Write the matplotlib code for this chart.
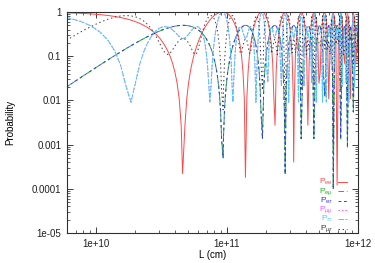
import numpy as np
import matplotlib
matplotlib.use('Agg')
import matplotlib.pyplot as plt
from matplotlib.ticker import LogLocator, NullFormatter

plt.rcParams['font.family'] = ['Liberation Sans', 'DejaVu Sans']
plt.rcParams['mathtext.fontset'] = 'custom'
plt.rcParams['mathtext.rm'] = 'Liberation Sans'
plt.rcParams['mathtext.it'] = 'Liberation Sans:italic'
plt.rcParams['lines.scale_dashes'] = False

# ---- data (baseline L in units of 1e10 cm, probabilities) ----
L_1e10cm = [
    0.462, 0.616, 0.770, 0.924, 1.078, 1.232, 1.386, 1.540, 1.694, 1.848, 2.002, 2.156, 2.310, 2.464,
    2.618, 2.772, 2.926, 3.080, 3.234, 3.388, 3.542, 3.696, 3.850, 4.004, 4.158, 4.312, 4.466, 4.5764,
    4.774, 4.928, 5.082, 5.236, 5.390, 5.544, 5.698, 5.852, 6.006, 6.160, 6.314, 6.468, 6.622, 6.776,
    6.930, 7.084, 7.238, 7.392, 7.546, 7.700, 7.854, 8.008, 8.162, 8.316, 8.470, 8.624, 8.778, 8.932,
    9.086, 9.3324,
    9.394, 9.548, 9.702, 9.856, 10.010, 10.164, 10.318, 10.472, 10.626, 10.780, 10.934, 11.088, 11.242,
    11.396, 11.550, 11.704, 11.858, 12.012, 12.166, 12.320, 12.628, 12.936, 13.244, 13.552, 13.8205,
    14.168, 14.476, 14.784, 15.092, 15.400, 15.708, 16.016, 16.324, 16.632, 16.940, 17.248, 17.556,
    17.864, 18.172,
    18.634, 19.096, 19.558, 20.020, 20.482, 20.944, 21.406, 21.868, 22.330, 22.792, 23.254, 23.716,
    24.178, 24.640, 25.102, 25.564, 26.026, 26.488, 26.950, 27.412, 27.782,
    28.336, 28.952, 29.568, 30.184, 30.800, 31.416, 32.032, 32.281, 32.648, 33.264, 33.880, 34.496,
    35.112, 35.728, 36.344, 36.806,
    37.730, 38.654, 39.578, 40.502, 41.426, 42.350, 43.274, 44.198, 45.122, 46.046,
    46.970, 48.048, 49.126, 50.358, 51.436, 52.514, 53.592, 54.670, 55.902,
    57.288, 58.674, 59.752, 61.138, 62.524, 63.910, 64.721,
    66.220, 67.760, 69.268, 70.840, 72.380, 73.766,
    75.614, 77.462, 79.310, 81.158, 83.037,
    85.008, 87.472, 89.628, 92.092,
    94.094, 96.250, 98.406, 100.562,
]

P_ee = [
    0.97553, 0.95677, 0.93301, 0.90451, 0.87157, 0.83457, 0.7939, 0.75, 0.70337, 0.65451, 0.60396,
    0.55226, 0.5, 0.44774, 0.39604, 0.34549, 0.29663, 0.25, 0.20611, 0.16543, 0.12843, 0.09549,
    0.06699, 0.04323, 0.02447, 0.01093, 0.00274, 2.2e-4,
    0.00274, 0.01093, 0.02447, 0.04323, 0.06699, 0.09549, 0.12843, 0.16543, 0.20611, 0.25, 0.29663,
    0.34549, 0.39604, 0.44774, 0.5, 0.55226, 0.60396, 0.65451, 0.70337, 0.75, 0.7939, 0.83457,
    0.87157, 0.90451, 0.93301, 0.95677, 0.97553, 0.98907, 0.99726, 0.99901,
    0.99726, 0.98907, 0.97553, 0.95677, 0.93301, 0.90451, 0.87157, 0.83457, 0.7939, 0.75, 0.70337,
    0.65451, 0.60396, 0.55226, 0.5, 0.44774, 0.39604, 0.34549, 0.29663, 0.25, 0.16543, 0.09549,
    0.04323, 0.01093, 1.81e-4,
    0.01093, 0.04323, 0.09549, 0.16543, 0.25, 0.34549, 0.44774, 0.55226, 0.65451, 0.75, 0.83457,
    0.90451, 0.95677, 0.98907,
    0.99726, 0.95677, 0.87157, 0.75, 0.60396, 0.44774, 0.29663, 0.16543, 0.06699, 0.01093, 0.00274,
    0.04323, 0.12843, 0.25, 0.39604, 0.55226, 0.70337, 0.83457, 0.93301, 0.98907, 0.99956,
    0.95677, 0.83457, 0.65451, 0.44774, 0.25, 0.09549, 0.01093, 4.03e-4, 0.01093, 0.09549, 0.25,
    0.44774, 0.65451, 0.83457, 0.95677, 0.99726,
    0.93301, 0.70337, 0.39604, 0.12843, 0.00274, 0.06699, 0.29663, 0.60396, 0.87157, 0.99726,
    0.93301, 0.65451, 0.29663, 0.02447, 0.04323, 0.29663, 0.65451, 0.93301, 0.97553,
    0.65451, 0.20611, 0.01093, 0.12843, 0.55226, 0.93301, 0.99981,
    0.75, 0.25, 1.21e-4, 0.25, 0.75, 0.99726,
    0.70337, 0.12843, 0.06699, 0.60396, 0.99825,
    0.65451, 0.01093, 0.34549, 0.98907,
    0.70337, 0.06699, 0.20611, 0.87157,
]

P_emu = [
    0.01224, 0.02162, 0.0335, 0.04775, 0.06422, 0.08272, 0.10305, 0.125, 0.14832, 0.17275, 0.19802,
    0.22387, 0.25, 0.27613, 0.30198, 0.32726, 0.35169, 0.375, 0.39695, 0.41729, 0.43579, 0.45226,
    0.46651, 0.47839, 0.48777, 0.49454, 0.49863, 0.4999,
    0.49863, 0.49454, 0.48777, 0.47839, 0.46651, 0.45226, 0.43579, 0.41729, 0.39695, 0.375, 0.35169,
    0.32726, 0.30198, 0.27613, 0.25, 0.22387, 0.19802, 0.17275, 0.14832, 0.125, 0.10305, 0.08272,
    0.06422, 0.04775, 0.0335, 0.02162, 0.01224, 0.005465, 0.00137, 4.93e-4,
    0.00137, 0.005465, 0.01224, 0.02162, 0.0335, 0.04775, 0.06422, 0.08272, 0.10305, 0.125, 0.14832,
    0.17275, 0.19802, 0.22387, 0.25, 0.27613, 0.30198, 0.32726, 0.35169, 0.375, 0.41729, 0.45226,
    0.47839, 0.49454, 0.4999,
    0.49454, 0.47839, 0.45226, 0.41729, 0.375, 0.32726, 0.27613, 0.22387, 0.17275, 0.125, 0.08272,
    0.04775, 0.02162, 0.005465,
    0.00137, 0.02162, 0.06422, 0.125, 0.19802, 0.27613, 0.35169, 0.41729, 0.46651, 0.49454, 0.49863,
    0.47839, 0.43579, 0.375, 0.30198, 0.22387, 0.14832, 0.08272, 0.0335, 0.005465, 2.19e-4,
    0.02162, 0.08272, 0.17275, 0.27613, 0.375, 0.45226, 0.49454, 0.4998, 0.49454, 0.45226, 0.375,
    0.27613, 0.17275, 0.08272, 0.02162, 0.00137,
    0.0335, 0.14832, 0.30198, 0.43579, 0.49863, 0.46651, 0.35169, 0.19802, 0.06422, 0.00137,
    0.0335, 0.17275, 0.35169, 0.48777, 0.47839, 0.35169, 0.17275, 0.0335, 0.01224,
    0.17275, 0.39695, 0.49454, 0.43579, 0.22387, 0.0335, 9.75e-5,
    0.125, 0.375, 0.4999, 0.375, 0.125, 0.00137,
    0.14832, 0.43579, 0.46651, 0.19802, 8.77e-4,
    0.17275, 0.49454, 0.32726, 0.005465,
    0.14832, 0.46651, 0.39695, 0.06422,
]
P_etau = list(P_emu)      # drawn on top of P_emu in the chart

P_mumu = [
    0.84308, 0.73373, 0.60825, 0.47613, 0.34708, 0.23025, 0.13346, 0.0625, 0.02079, 0.00912, 0.02566,
    0.06628, 0.125, 0.19465, 0.26757, 0.33637, 0.39464, 0.4375, 0.46204, 0.46748, 0.45519, 0.42838,
    0.39175, 0.35084, 0.31142, 0.27887, 0.25746, 0.2506,
    0.25746, 0.27887, 0.31142, 0.35084, 0.39175, 0.42838, 0.45519, 0.46748, 0.46204, 0.4375, 0.39464,
    0.33637, 0.26757, 0.19465, 0.125, 0.06628, 0.02566, 0.00912, 0.02079, 0.0625, 0.13346, 0.23025,
    0.34708, 0.47613, 0.60825, 0.73373, 0.84308, 0.92791, 0.98162, 0.99336,
    0.98162, 0.92791, 0.84308, 0.73373, 0.60825, 0.47613, 0.34708, 0.23025, 0.13346, 0.0625, 0.02079,
    0.00912, 0.02566, 0.06628, 0.125, 0.19465, 0.26757, 0.33637, 0.39464, 0.4375, 0.46748, 0.42838,
    0.35084, 0.27887, 0.2505,
    0.27887, 0.35084, 0.42838, 0.46748, 0.4375, 0.33637, 0.19465, 0.06628, 0.00912, 0.0625, 0.23025,
    0.47613, 0.73373, 0.92791,
    0.98162, 0.73373, 0.34708, 0.0625, 0.02566, 0.19465, 0.39464, 0.46748, 0.39175, 0.27887, 0.25746,
    0.35084, 0.45519, 0.4375, 0.26757, 0.06628, 0.02079, 0.23025, 0.60825, 0.92791, 0.99704,
    0.73373, 0.23025, 0.00912, 0.19465, 0.4375, 0.42838, 0.27887, 0.2511, 0.27887, 0.42838, 0.4375,
    0.19465, 0.00912, 0.23025, 0.73373, 0.98162,
    0.60825, 0.02079, 0.26757, 0.45519, 0.25746, 0.39175, 0.39464, 0.02566, 0.34708, 0.98162,
    0.60825, 0.00912, 0.39464, 0.31142, 0.35084, 0.39464, 0.00912, 0.60825, 0.84308,
    0.00912, 0.46204, 0.27887, 0.45519, 0.06628, 0.60825, 0.99868,
    0.0625, 0.4375, 0.2503, 0.4375, 0.0625, 0.98162,
    0.02079, 0.45519, 0.39175, 0.02566, 0.98822,
    0.00912, 0.27887, 0.33637, 0.92791,
    0.02079, 0.39175, 0.46204, 0.34708,
]
P_tautau = list(P_mumu)   # drawn on top of P_mumu in the chart

P_mutau = [
    0.14468, 0.24465, 0.35825, 0.47613, 0.58871, 0.68703, 0.7635, 0.8125, 0.83089, 0.81814, 0.77633,
    0.70986, 0.625, 0.52922, 0.43045, 0.33637, 0.25368, 0.1875, 0.14102, 0.11523, 0.10903, 0.11936,
    0.14175, 0.17078, 0.20081, 0.2266, 0.24391, 0.2495,
    0.24391, 0.2266, 0.20081, 0.17078, 0.14175, 0.11936, 0.10903, 0.11523, 0.14102, 0.1875, 0.25368,
    0.33637, 0.43045, 0.52922, 0.625, 0.70986, 0.77633, 0.81814, 0.83089, 0.8125, 0.7635, 0.68703,
    0.58871, 0.47613, 0.35825, 0.24465, 0.14468, 0.06663, 0.01701, 0.00615,
    0.01701, 0.06663, 0.14468, 0.24465, 0.35825, 0.47613, 0.58871, 0.68703, 0.7635, 0.8125, 0.83089,
    0.81814, 0.77633, 0.70986, 0.625, 0.52922, 0.43045, 0.33637, 0.25368, 0.1875, 0.11523, 0.11936,
    0.17078, 0.2266, 0.2496,
    0.2266, 0.17078, 0.11936, 0.11523, 0.1875, 0.33637, 0.52922, 0.70986, 0.81814, 0.8125, 0.68703,
    0.47613, 0.24465, 0.06663,
    0.01701, 0.24465, 0.58871, 0.8125, 0.77633, 0.52922, 0.25368, 0.11523, 0.14175, 0.2266, 0.24391,
    0.17078, 0.10903, 0.1875, 0.43045, 0.70986, 0.83089, 0.68703, 0.35825, 0.06663, 0.00274,
    0.24465, 0.68703, 0.81814, 0.52922, 0.1875, 0.11936, 0.2266, 0.2491, 0.2266, 0.11936, 0.1875,
    0.52922, 0.81814, 0.68703, 0.24465, 0.01701,
    0.35825, 0.83089, 0.43045, 0.10903, 0.24391, 0.14175, 0.25368, 0.77633, 0.58871, 0.01701,
    0.35825, 0.81814, 0.25368, 0.20081, 0.17078, 0.25368, 0.81814, 0.35825, 0.14468,
    0.81814, 0.14102, 0.2266, 0.10903, 0.70986, 0.35825, 0.00122,
    0.8125, 0.1875, 0.2497, 0.1875, 0.8125, 0.01701,
    0.83089, 0.10903, 0.14175, 0.77633, 0.0109,
    0.81814, 0.2266, 0.33637, 0.06663,
    0.83089, 0.14175, 0.14102, 0.58871,
]

series_labels = [r'$\mathrm{P}_{\mathrm{ee}}$', r'$\mathrm{P}_{\mathrm{e}\mu}$', r'$\mathrm{P}_{\mathrm{e}\tau}$',
                 r'$\mathrm{P}_{\mu\mu}$', r'$\mathrm{P}_{\tau\tau}$', r'$\mathrm{P}_{\mu\tau}$']
x_ticks = [1e10, 1e11, 1e12]
x_tick_labels = ['1e+10', '1e+11', '1e+12']
y_ticks = [1, 0.1, 0.01, 0.001, 0.0001, 1e-05]
y_tick_labels = ['1', '0.1', '0.01', '0.001', '0.0001', '1e-05']

# ---- styles ----
colors = ['#ff4848', '#20b820', '#3535ff', '#ff50ff', '#50c8ff', '#383838']
dash_styles = [None, (4, 2), (2, 2), (1, 1.5), (4, 1), (1, 2)]

fig = plt.figure(figsize=(3.75, 2.63), dpi=100)
ax = fig.add_axes([67 / 375, 1 - 233 / 263, 291 / 375, 221 / 263])

L_cm = np.array(L_1e10cm) * 1e10
all_series = [P_ee, P_emu, P_etau, P_mumu, P_tautau, P_mutau]
lines = []
for P, col, ds in zip(all_series, colors, dash_styles):
    ln, = ax.plot(L_cm, P, color=col, lw=0.7)
    if ds is not None:
        ln.set_dashes(ds)
    lines.append(ln)

ax.set_xscale('log')
ax.set_yscale('log')
ax.set_xlim(6e9, 1e12)
ax.set_ylim(1e-5, 1)
ax.set_xticks(x_ticks)
ax.set_xticklabels(x_tick_labels)
ax.set_yticks(y_ticks)
ax.set_yticklabels(y_tick_labels)
ax.xaxis.set_minor_locator(LogLocator(base=10, subs=np.arange(2, 10)))
ax.yaxis.set_minor_locator(LogLocator(base=10, subs=np.arange(2, 10)))
ax.xaxis.set_minor_formatter(NullFormatter())
ax.yaxis.set_minor_formatter(NullFormatter())
ax.tick_params(which='both', direction='in', top=True, right=True, labelsize=7, colors='#202020')
ax.tick_params(which='major', length=4, width=0.6, pad=4)
ax.tick_params(which='minor', length=2, width=0.5)
for sp in ax.spines.values():
    sp.set_linewidth(0.8)
    sp.set_color('#303030')

ax.set_xlabel('L (cm)', fontsize=7, labelpad=1)
ax.set_ylabel('Probability', fontsize=7, labelpad=12)

# ---- key (bottom right, text coloured like the lines) ----
ky0, kdy = 0.2308, 0.0421
for i, (lab, ln) in enumerate(zip(series_labels, lines)):
    y = ky0 - i * kdy
    ax.text(0.915, y, lab, transform=ax.transAxes, ha='right', va='center',
            fontsize=6, color=ln.get_color())
    seg, = ax.plot([0.931, 0.962], [y, y], transform=ax.transAxes, color=ln.get_color(), lw=0.7)
    d = dash_styles[i]
    if d is not None:
        seg.set_dashes(d)

fig.savefig('out.png', dpi=100)
